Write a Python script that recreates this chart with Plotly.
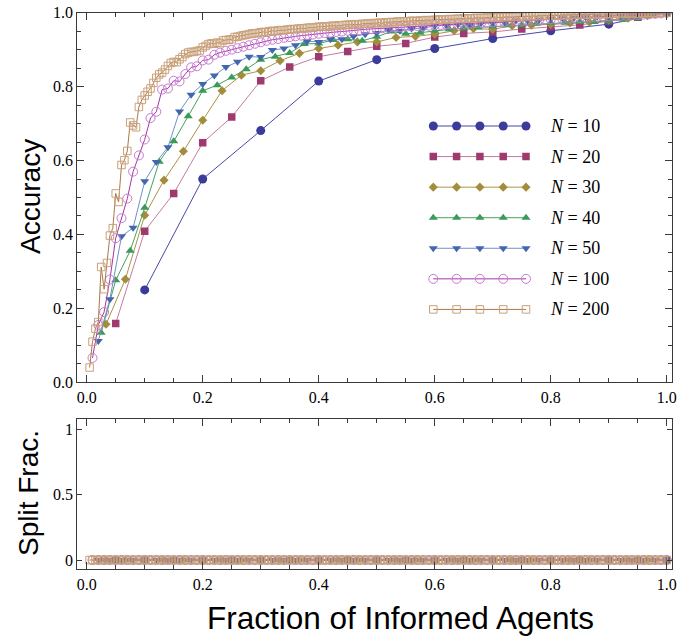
import plotly.graph_objects as go

# ---------------- data ----------------
group_sizes = [10, 20, 30, 40, 50, 100, 200]
labels = ["N = 10", "N = 20", "N = 30", "N = 40", "N = 50", "N = 100", "N = 200"]

acc_10 = [0.25, 0.55, 0.681, 0.815, 0.873, 0.903, 0.93, 0.951, 0.969, 1.0]

acc_20 = [0.159, 0.409, 0.511, 0.648, 0.718, 0.816, 0.853, 0.881, 0.895, 0.909,
          0.917, 0.934, 0.944, 0.948, 0.956, 0.962, 0.967, 0.977, 0.988, 1.0]

acc_30 = [0.157, 0.279, 0.452, 0.547, 0.625, 0.709, 0.789, 0.831, 0.843, 0.87,
          0.89, 0.903, 0.912, 0.921, 0.921, 0.933, 0.936, 0.942, 0.951, 0.957,
          0.955, 0.965, 0.966, 0.968, 0.972, 0.974, 0.98, 0.985, 0.992, 1.0]

acc_40 = [0.134, 0.276, 0.356, 0.472, 0.597, 0.652, 0.72, 0.789, 0.804, 0.825,
          0.847, 0.873, 0.881, 0.891, 0.915, 0.917, 0.926, 0.928, 0.924, 0.935,
          0.949, 0.943, 0.946, 0.951, 0.955, 0.958, 0.96, 0.963, 0.966, 0.966,
          0.97, 0.972, 0.973, 0.975, 0.975, 0.977, 0.981, 0.985, 0.992, 1.0]

acc_50 = [0.112, 0.225, 0.395, 0.418, 0.544, 0.596, 0.636, 0.733, 0.778, 0.807,
          0.83, 0.853, 0.867, 0.881, 0.88, 0.899, 0.903, 0.912, 0.923, 0.921,
          0.928, 0.928, 0.936, 0.942, 0.945, 0.953, 0.951, 0.957, 0.958, 0.965,
          0.966, 0.968, 0.966, 0.972, 0.972, 0.975, 0.979, 0.978, 0.981, 0.983,
          0.985, 0.986, 0.988, 0.989, 0.99, 0.992, 0.994, 0.996, 0.998, 1.0]

acc_100 = [0.066, 0.155, 0.19, 0.278, 0.39, 0.444, 0.497, 0.57, 0.614, 0.657,
           0.715, 0.732, 0.792, 0.795, 0.816, 0.814, 0.834, 0.852, 0.855, 0.871,
           0.873, 0.886, 0.892, 0.897, 0.9, 0.904, 0.908, 0.912, 0.916, 0.92,
           0.924, 0.927, 0.929, 0.932, 0.934, 0.936, 0.938, 0.94, 0.941, 0.943,
           0.945, 0.946, 0.948, 0.949, 0.951, 0.952, 0.953, 0.955, 0.956, 0.957,
           0.958, 0.959, 0.96, 0.961, 0.962, 0.963, 0.964, 0.964, 0.965, 0.966,
           0.967, 0.968, 0.968, 0.969, 0.97, 0.971, 0.972, 0.972, 0.973, 0.974,
           0.975, 0.975, 0.976, 0.977, 0.978, 0.978, 0.979, 0.98, 0.981, 0.982,
           0.982, 0.983, 0.984, 0.985, 0.986, 0.986, 0.987, 0.988, 0.989, 0.99,
           0.991, 0.991, 0.992, 0.993, 0.994, 0.995, 0.996, 0.997, 0.998, 1.0]

acc_200 = [0.04, 0.11, 0.145, 0.163, 0.312, 0.252, 0.323, 0.397, 0.417, 0.511,
           0.488, 0.588, 0.601, 0.626, 0.703, 0.695, 0.69, 0.745, 0.764, 0.776,
           0.786, 0.795, 0.81, 0.824, 0.833, 0.838, 0.846, 0.856, 0.864, 0.867,
           0.866, 0.874, 0.88, 0.888, 0.892, 0.894, 0.894, 0.896, 0.898, 0.906,
           0.91, 0.915, 0.917, 0.916, 0.919, 0.918, 0.925, 0.926, 0.927, 0.928,
           0.934, 0.935, 0.937, 0.939, 0.94, 0.942, 0.944, 0.944, 0.945, 0.947,
           0.948, 0.947, 0.95, 0.951, 0.95, 0.952, 0.953, 0.952, 0.954, 0.955,
           0.956, 0.955, 0.957, 0.958, 0.957, 0.959, 0.96, 0.959, 0.961, 0.962,
           0.962, 0.963, 0.962, 0.964, 0.965, 0.964, 0.966, 0.966, 0.967, 0.967,
           0.968, 0.968, 0.969, 0.968, 0.97, 0.97, 0.971, 0.97, 0.972, 0.972,
           0.973, 0.972, 0.974, 0.974, 0.975, 0.974, 0.976, 0.976, 0.977, 0.976,
           0.977, 0.978, 0.978, 0.977, 0.979, 0.979, 0.98, 0.979, 0.98, 0.981,
           0.981, 0.982, 0.981, 0.982, 0.983, 0.982, 0.983, 0.984, 0.983, 0.984,
           0.985, 0.984, 0.985, 0.986, 0.985, 0.986, 0.986, 0.987, 0.986, 0.987,
           0.988, 0.987, 0.988, 0.988, 0.989, 0.988, 0.989, 0.99, 0.989, 0.99,
           0.99, 0.991, 0.99, 0.991, 0.991, 0.992, 0.991, 0.992, 0.992, 0.992,
           0.993, 0.992, 0.993, 0.993, 0.994, 0.993, 0.994, 0.994, 0.995, 0.994,
           0.995, 0.995, 0.995, 0.996, 0.995, 0.996, 0.996, 0.996, 0.997, 0.996,
           0.997, 0.997, 0.997, 0.997, 0.998, 0.997, 0.998, 0.998, 0.998, 0.998,
           0.999, 0.998, 0.999, 0.999, 0.999, 0.999, 1.0, 0.999, 1.0, 1.0]

accuracy = [acc_10, acc_20, acc_30, acc_40, acc_50, acc_100, acc_200]

# split fraction: every point sits at 0
split_10 = [0.0] * len(acc_10)
split_20 = [0.0] * len(acc_20)
split_30 = [0.0] * len(acc_30)
split_40 = [0.0] * len(acc_40)
split_50 = [0.0] * len(acc_50)
split_100 = [0.0] * len(acc_100)
split_200 = [0.0] * len(acc_200)
split = [split_10, split_20, split_30, split_40, split_50, split_100, split_200]

x_ticks = [0.0, 0.2, 0.4, 0.6, 0.8, 1.0]
acc_ticks = [0.0, 0.2, 0.4, 0.6, 0.8, 1.0]
split_ticks = [0, 0.5, 1]
split_tick_text = ["0", "0.5", "1"]

# ---------------- styles ----------------
symbols = ["circle", "square", "diamond", "triangle-up", "triangle-down",
           "circle-open", "square-open"]
marker_colors = ["#3b3b9c", "#9e3a6e", "#a38d3d", "#3a9a5a", "#4367ad",
                 "#c779cf", "#c9a07a"]
line_colors = ["#4848a8", "#c27ca0", "#a89545", "#44a060", "#7090c8",
               "#a535a5", "#a97844"]
marker_sizes = [9, 7.5, 7, 8, 8, 9, 7.5]

SERIF = "Liberation Serif"
SANS = "Liberation Sans"

fig = go.Figure()

for i, n in enumerate(group_sizes):
    xs = [k / n for k in range(1, n + 1)]
    open_marker = symbols[i].endswith("open")
    mk = dict(symbol=symbols[i], size=marker_sizes[i], color=marker_colors[i],
              line=dict(width=1 if open_marker else 0, color=marker_colors[i]))
    fig.add_trace(go.Scatter(x=xs, y=accuracy[i], mode="lines+markers",
                             line=dict(color=line_colors[i], width=1),
                             marker=mk, showlegend=False,
                             xaxis="x", yaxis="y"))
    fig.add_trace(go.Scatter(x=xs, y=split[i], mode="lines+markers",
                             line=dict(color=line_colors[i], width=1),
                             marker=mk, showlegend=False,
                             xaxis="x2", yaxis="y2"))

# ---------------- custom legend (line with five markers) ----------------
leg_x = [0.5986, 0.6378, 0.6770, 0.7162, 0.7545]
leg_y_top = 0.6934
leg_dy = 0.0827
leg_text_x = 0.792
annotations = []
for i, lab in enumerate(labels):
    yy = leg_y_top - i * leg_dy
    open_marker = symbols[i].endswith("open")
    fig.add_trace(go.Scatter(
        x=leg_x, y=[yy] * len(leg_x), mode="lines+markers",
        line=dict(color=line_colors[i], width=1),
        marker=dict(symbol=symbols[i], size=marker_sizes[i], color=marker_colors[i],
                    line=dict(width=1 if open_marker else 0, color=marker_colors[i])),
        showlegend=False, hoverinfo="skip", xaxis="x3", yaxis="y3"))
    num = lab.split("= ")[1]
    annotations.append(dict(x=leg_text_x, y=yy, xref="x3", yref="y3",
                            text="<i>N</i> = " + num, showarrow=False,
                            xanchor="left", yanchor="middle",
                            font=dict(family=SERIF, size=18, color="black")))

annotations += [
    dict(x=30 / 679, y=1 - 197 / 637, xref="paper", yref="paper", text="Accuracy",
         textangle=-90, showarrow=False, xanchor="center", yanchor="middle",
         font=dict(family=SANS, size=28, color="black")),
    dict(x=28 / 679, y=1 - 493 / 637, xref="paper", yref="paper", text="Split Frac.",
         textangle=-90, showarrow=False, xanchor="center", yanchor="middle",
         font=dict(family=SANS, size=28, color="black")),
    dict(x=400 / 679, y=1 - 618 / 637, xref="paper", yref="paper",
         text="Fraction of Informed Agents", showarrow=False,
         xanchor="center", yanchor="middle",
         font=dict(family=SANS, size=31.5, color="black")),
]

frame = "#3a3a3a"
x_dom = [77.3 / 679, 672 / 679]
top_dom = [1 - 382.3 / 637, 1 - 12.7 / 637]
bot_dom = [1 - 569.3 / 637, 1 - 419.3 / 637]

common_x = dict(range=[-0.0162, 1.009], tickvals=x_ticks, tickformat=".1f",
                ticks="inside", ticklen=7, tickwidth=1, tickcolor=frame,
                showline=True, linecolor=frame, linewidth=1, mirror="allticks",
                showgrid=False, zeroline=False, automargin=False,
                tickfont=dict(family=SERIF, size=16, color="black"),
                minor=dict(dtick=0.05, tick0=0, ticks="inside", ticklen=4,
                           tickcolor=frame, showgrid=False),
                domain=x_dom)

fig.update_layout(
    width=679, height=637,
    margin=dict(l=0, r=0, t=0, b=0),
    paper_bgcolor="white", plot_bgcolor="white",
    showlegend=False,
    xaxis=dict(anchor="y", **common_x),
    xaxis2=dict(anchor="y2", **common_x),
    yaxis=dict(domain=top_dom, anchor="x", range=[0, 1], tickvals=acc_ticks,
               tickformat=".1f", ticks="inside", ticklen=7, tickwidth=1,
               tickcolor=frame, showline=True, linecolor=frame, linewidth=1,
               mirror="allticks", showgrid=False, zeroline=False, automargin=False,
               tickfont=dict(family=SERIF, size=16, color="black"),
               minor=dict(dtick=0.05, tick0=0, ticks="inside", ticklen=4,
                          tickcolor=frame, showgrid=False)),
    yaxis2=dict(domain=bot_dom, anchor="x2", range=[-0.071, 1.077],
                tickvals=split_ticks, ticktext=split_tick_text,
                ticks="inside", ticklen=5, tickwidth=1, tickcolor=frame,
                showline=True, linecolor=frame, linewidth=1, mirror="allticks",
                showgrid=False, zeroline=False, automargin=False,
                tickfont=dict(family=SERIF, size=16, color="black")),
    xaxis3=dict(overlaying="x", anchor="y3", range=[0, 1], visible=False,
                fixedrange=True),
    yaxis3=dict(overlaying="y", anchor="x3", range=[0, 1], visible=False,
                fixedrange=True),
    annotations=annotations,
)

fig.write_html("out.html")
